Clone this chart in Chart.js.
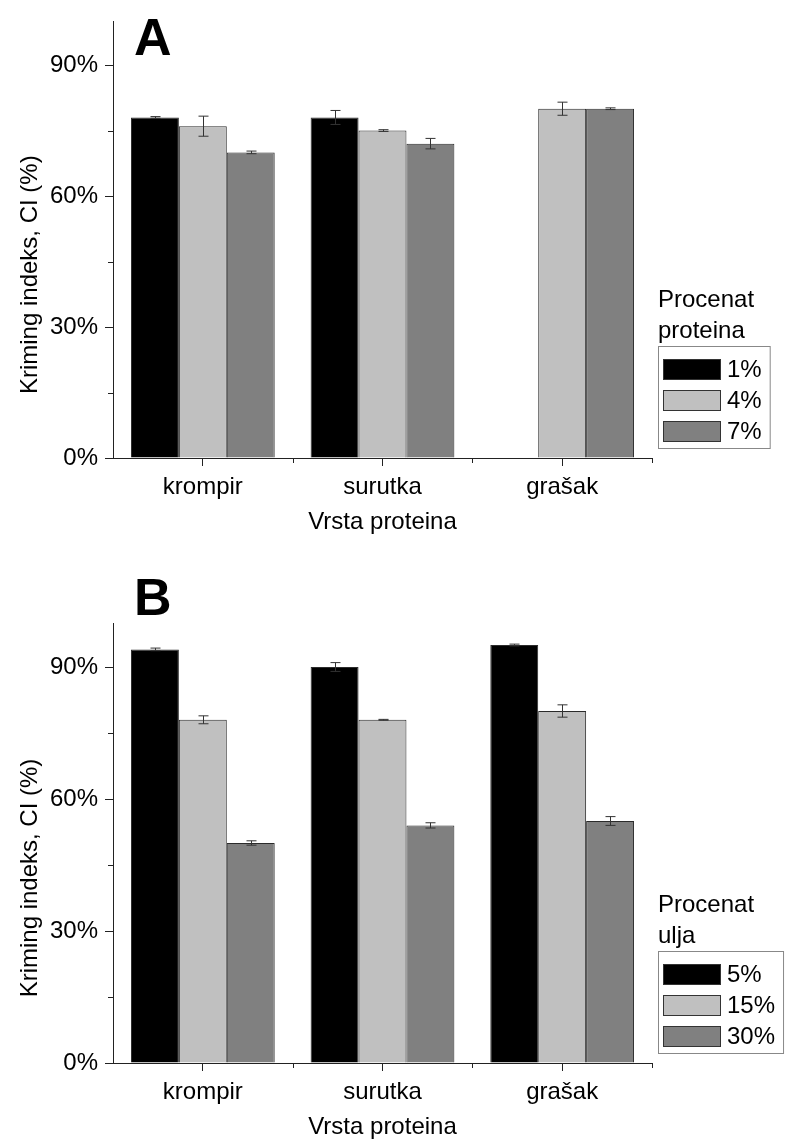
<!DOCTYPE html>
<html>
<head>
<meta charset="utf-8">
<script src="https://cdn.jsdelivr.net/npm/chart.js@4.4.0/dist/chart.umd.min.js"></script>
<style>
  body { margin: 0; background: #fff; }
  canvas { display: block; }
</style>
</head>
<body>
<canvas id="chartA" width="785" height="572"></canvas>
<canvas id="chartB" width="785" height="572"></canvas>
<script>
// categories and ticks
const categories = ['krompir', 'surutka', 'grašak'];
const yTicks = [0, 30, 60, 90];
const yMinorTicks = [15, 45, 75];

// panel A - procenat proteina
const proteinLabels = ['1%', '4%', '7%'];
const protein1 = [78, 78, null];
const protein4 = [76, 75, 80];
const protein7 = [70, 72, 80];
const protein1Err = [0.2, 1.6, null];
const protein4Err = [2.3, 0.2, 1.5];
const protein7Err = [0.3, 1.2, 0.2];

// panel B - procenat ulja
const oilLabels = ['5%', '15%', '30%'];
const oil5 = [94, 90, 95];
const oil15 = [78, 78, 80];
const oil30 = [50, 54, 55];
const oil5Err = [0.3, 1.0, 0.2];
const oil15Err = [0.9, 0.1, 1.4];
const oil30Err = [0.5, 0.6, 1.0];

const barColors = ['#000000', '#c0c0c0', '#808080'];
const FONT = "'Liberation Sans', Arial, sans-serif";

Chart.defaults.font.family = FONT;
Chart.defaults.font.size = 24;
Chart.defaults.color = '#000';

function makeExtras(letter, letterY, legendTitle, legendLabels, errors) {
  return {
    id: 'extras' + letter,
    afterDatasetsDraw(chart) {
      const ctx = chart.ctx;
      const area = chart.chartArea;
      const x = chart.scales.x;
      const y = chart.scales.y;
      ctx.save();
      ctx.strokeStyle = '#222';
      ctx.lineWidth = 1;

      // minor y ticks
      yMinorTicks.forEach(v => {
        const py = Math.round(y.getPixelForValue(v)) + 0.5;
        ctx.beginPath();
        ctx.moveTo(area.left - 5, py);
        ctx.lineTo(area.left, py);
        ctx.stroke();
      });

      // x ticks between categories
      const step = x.getPixelForValue(1) - x.getPixelForValue(0);
      for (let i = 1; i <= categories.length; i++) {
        const px = Math.round(x.getPixelForValue(i) - step / 2) + 0.5;
        ctx.beginPath();
        ctx.moveTo(px, area.bottom);
        ctx.lineTo(px, area.bottom + 5);
        ctx.stroke();
      }

      // error bars
      ctx.strokeStyle = '#333';
      chart.data.datasets.forEach((ds, di) => {
        const meta = chart.getDatasetMeta(di);
        meta.data.forEach((bar, i) => {
          const v = ds.data[i];
          const e = errors[di][i];
          if (v == null || e == null) return;
          const px = Math.round(bar.x) + 0.5;
          const top = y.getPixelForValue(v + e);
          const bot = y.getPixelForValue(v - e);
          ctx.beginPath();
          ctx.moveTo(px, top);
          ctx.lineTo(px, bot);
          ctx.moveTo(px - 5, top);
          ctx.lineTo(px + 5, top);
          ctx.moveTo(px - 5, bot);
          ctx.lineTo(px + 5, bot);
          ctx.stroke();
        });
      });

      // panel letter
      ctx.fillStyle = '#000';
      ctx.font = 'bold 52px ' + FONT;
      ctx.textAlign = 'left';
      ctx.textBaseline = 'alphabetic';
      ctx.fillText(letter, 134, letterY);

      // y title
      ctx.font = '24px ' + FONT;
      ctx.save();
      ctx.translate(30, (area.top + area.bottom) / 2 + 35);
      ctx.rotate(-Math.PI / 2);
      ctx.textAlign = 'center';
      ctx.textBaseline = 'middle';
      ctx.fillText('Kriming indeks, CI (%)', 0, 0);
      ctx.restore();

      // legend
      const lx = 658;
      const base = area.bottom;
      ctx.textAlign = 'left';
      ctx.textBaseline = 'middle';
      ctx.fillText(legendTitle[0], lx, base - 158);
      ctx.fillText(legendTitle[1], lx, base - 127);
      const textW = Math.max(...legendLabels.map(t => ctx.measureText(t).width));
      const boxW = 5 + 58 + 6 + textW + 8;
      ctx.strokeStyle = '#888';
      ctx.strokeRect(lx + 0.5, base - 112 + 0.5, boxW, 102);
      legendLabels.forEach((t, i) => {
        const cy = base - 89 + i * 31;
        ctx.fillStyle = barColors[i];
        ctx.fillRect(lx + 5, cy - 10, 58, 21);
        ctx.strokeStyle = '#333';
        ctx.strokeRect(lx + 5.5, cy - 9.5, 57, 20);
        ctx.fillStyle = '#000';
        ctx.fillText(t, lx + 69, cy + 1);
      });
      ctx.restore();
    }
  };
}

function makeChart(id, letter, letterY, labels, series, errors, legendTitle, padTop, padBottom) {
  return new Chart(document.getElementById(id), {
    type: 'bar',
    data: {
      labels: categories,
      datasets: series.map((d, i) => ({
        label: labels[i],
        data: d,
        backgroundColor: barColors[i],
        borderColor: '#2b2b2b',
        borderWidth: 1,
        categoryPercentage: 0.8,
        barPercentage: 1.0
      }))
    },
    options: {
      responsive: false,
      animation: false,
      layout: { padding: { left: 0, right: 133, top: padTop, bottom: padBottom } },
      plugins: { legend: { display: false }, tooltip: { enabled: false } },
      scales: {
        x: {
          grid: { display: true, drawOnChartArea: false, offset: false, tickLength: 8, color: '#222' },
          border: { display: true, color: '#222', width: 1 },
          ticks: { padding: 7, color: '#000' },
          title: { display: true, text: 'Vrsta proteina', padding: { top: 0, bottom: 1 } },
          afterFit(scale) { scale.height = 80; }
        },
        y: {
          min: 0,
          max: 100,
          grid: { display: true, drawOnChartArea: false, tickLength: 8, color: '#222' },
          border: { display: true, color: '#222', width: 1 },
          ticks: { stepSize: 30, padding: 7, color: '#000', callback: v => v + '%' },
          afterBuildTicks(scale) {
            scale.ticks = yTicks.map(v => ({ value: v }));
          },
          afterFit(scale) { scale.width = 113; }
        }
      }
    },
    plugins: [makeExtras(letter, letterY, legendTitle, labels, errors)]
  });
}

makeChart('chartA', 'A', 55, proteinLabels,
  [protein1, protein4, protein7],
  [protein1Err, protein4Err, protein7Err],
  ['Procenat', 'proteina'], 18, 34);

makeChart('chartB', 'B', 43, oilLabels,
  [oil5, oil15, oil30],
  [oil5Err, oil15Err, oil30Err],
  ['Procenat', 'ulja'], 51, 1);
</script>
</body>
</html>
